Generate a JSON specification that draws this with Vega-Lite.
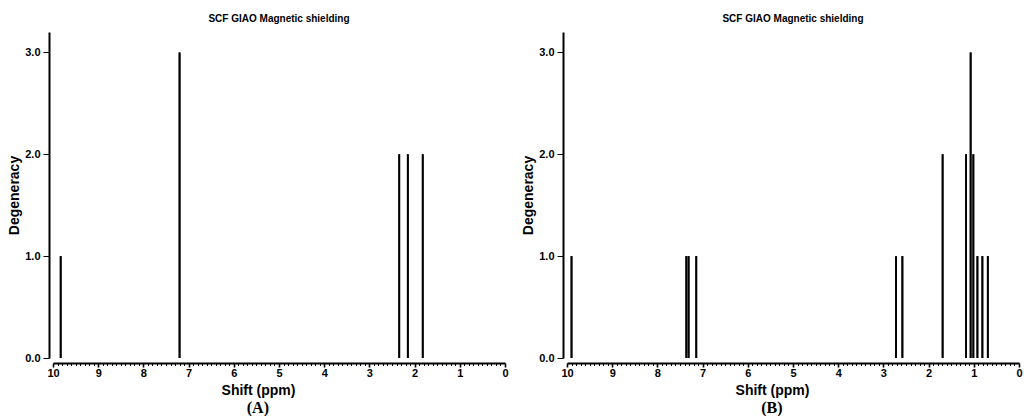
{
  "$schema": "https://vega.github.io/schema/vega-lite/v6.json",
  "background": "white",
  "padding": {"left": 7, "top": 14, "right": 4, "bottom": 0},
  "spacing": 12,
  "datasets": {
    "A": [
      {"shift": 9.83, "deg": 1},
      {"shift": 7.2, "deg": 3},
      {"shift": 2.34, "deg": 2},
      {"shift": 2.15, "deg": 2},
      {"shift": 1.82, "deg": 2}
    ],
    "B": [
      {"shift": 9.9, "deg": 1},
      {"shift": 7.36, "deg": 1},
      {"shift": 7.31, "deg": 1},
      {"shift": 7.14, "deg": 1},
      {"shift": 2.72, "deg": 1},
      {"shift": 2.58, "deg": 1},
      {"shift": 1.69, "deg": 2},
      {"shift": 1.17, "deg": 2},
      {"shift": 1.07, "deg": 3},
      {"shift": 1.01, "deg": 2},
      {"shift": 0.92, "deg": 1},
      {"shift": 0.81, "deg": 1},
      {"shift": 0.69, "deg": 1}
    ]
  },
  "hconcat": [
    {
      "title": {"text": "(A)", "orient": "bottom", "frame": "bounds", "anchor": "middle", "font": "Liberation Serif", "fontSize": 16, "fontWeight": "bold", "color": "black", "offset": 3},
      "vconcat": [
        {
          "width": 452,
          "height": 326,
          "data": {"name": "A"},
          "title": {"text": "SCF GIAO Magnetic shielding", "font": "Liberation Sans", "fontSize": 10, "fontWeight": "bold", "color": "black", "offset": 8},
          "layer": [
            {
              "mark": {"type": "rule", "strokeWidth": 1.8, "color": "black"},
              "encoding": {
                "x": {"field": "shift", "type": "quantitative", "scale": {"domain": [0, 10], "reverse": true, "nice": false, "zero": false},
                  "axis": {"orient": "bottom", "title": "Shift (ppm)", "titleX": 205, "offset": 5, "values": [0,1,2,3,4,5,6,7,8,9,10], "format": "d", "tickSize": 4, "tickWidth": 1.6, "labelPadding": 0, "titlePadding": 5}},
                "y": {"field": "deg", "type": "quantitative", "scale": {"domain": [0, 3.2], "nice": false},
                  "axis": {"title": "Degeneracy", "values": [0, 1, 2, 3], "format": ".1f", "offset": 4, "tickSize": 6, "labelPadding": 3, "titlePadding": 3}},
                "y2": {"datum": 0}
              }
            },
            {
              "mark": {"type": "rule", "strokeWidth": 1.8, "color": "black"},
              "encoding": {
                "x": {"field": "shift", "type": "quantitative",
                  "axis": {"orient": "bottom", "title": null, "offset": 5, "domain": false, "labels": false, "tickSize": 2.5, "tickWidth": 1,
                    "values": [0.1,0.2,0.3,0.4,0.5,0.6,0.7,0.8,0.9,1.1,1.2,1.3,1.4,1.5,1.6,1.7,1.8,1.9,2.1,2.2,2.3,2.4,2.5,2.6,2.7,2.8,2.9,3.1,3.2,3.3,3.4,3.5,3.6,3.7,3.8,3.9,4.1,4.2,4.3,4.4,4.5,4.6,4.7,4.8,4.9,5.1,5.2,5.3,5.4,5.5,5.6,5.7,5.8,5.9,6.1,6.2,6.3,6.4,6.5,6.6,6.7,6.8,6.9,7.1,7.2,7.3,7.4,7.5,7.6,7.7,7.8,7.9,8.1,8.2,8.3,8.4,8.5,8.6,8.7,8.8,8.9,9.1,9.2,9.3,9.4,9.5,9.6,9.7,9.8,9.9]}},
                "y": {"field": "deg", "type": "quantitative"},
                "y2": {"datum": 0}
              }
            }
          ],
          "resolve": {"axis": {"x": "independent"}}
        }
      ]
    },
    {
      "title": {"text": "(B)", "orient": "bottom", "frame": "bounds", "anchor": "middle", "font": "Liberation Serif", "fontSize": 16, "fontWeight": "bold", "color": "black", "offset": 3},
      "vconcat": [
        {
          "width": 452,
          "height": 326,
          "data": {"name": "B"},
          "title": {"text": "SCF GIAO Magnetic shielding", "font": "Liberation Sans", "fontSize": 10, "fontWeight": "bold", "color": "black", "offset": 8},
          "layer": [
            {
              "mark": {"type": "rule", "strokeWidth": 1.8, "color": "black"},
              "encoding": {
                "x": {"field": "shift", "type": "quantitative", "scale": {"domain": [0, 10], "reverse": true, "nice": false, "zero": false},
                  "axis": {"orient": "bottom", "title": "Shift (ppm)", "titleX": 205, "offset": 5, "values": [0,1,2,3,4,5,6,7,8,9,10], "format": "d", "tickSize": 4, "tickWidth": 1.6, "labelPadding": 0, "titlePadding": 5}},
                "y": {"field": "deg", "type": "quantitative", "scale": {"domain": [0, 3.2], "nice": false},
                  "axis": {"title": "Degeneracy", "values": [0, 1, 2, 3], "format": ".1f", "offset": 4, "tickSize": 6, "labelPadding": 3, "titlePadding": 3}},
                "y2": {"datum": 0}
              }
            },
            {
              "mark": {"type": "rule", "strokeWidth": 1.8, "color": "black"},
              "encoding": {
                "x": {"field": "shift", "type": "quantitative",
                  "axis": {"orient": "bottom", "title": null, "offset": 5, "domain": false, "labels": false, "tickSize": 2.5, "tickWidth": 1,
                    "values": [0.1,0.2,0.3,0.4,0.5,0.6,0.7,0.8,0.9,1.1,1.2,1.3,1.4,1.5,1.6,1.7,1.8,1.9,2.1,2.2,2.3,2.4,2.5,2.6,2.7,2.8,2.9,3.1,3.2,3.3,3.4,3.5,3.6,3.7,3.8,3.9,4.1,4.2,4.3,4.4,4.5,4.6,4.7,4.8,4.9,5.1,5.2,5.3,5.4,5.5,5.6,5.7,5.8,5.9,6.1,6.2,6.3,6.4,6.5,6.6,6.7,6.8,6.9,7.1,7.2,7.3,7.4,7.5,7.6,7.7,7.8,7.9,8.1,8.2,8.3,8.4,8.5,8.6,8.7,8.8,8.9,9.1,9.2,9.3,9.4,9.5,9.6,9.7,9.8,9.9]}},
                "y": {"field": "deg", "type": "quantitative"},
                "y2": {"datum": 0}
              }
            }
          ],
          "resolve": {"axis": {"x": "independent"}}
        }
      ]
    }
  ],
  "config": {
    "view": {"stroke": null},
    "axis": {
      "grid": false,
      "domainColor": "black",
      "domainWidth": 2,
      "tickColor": "black",
      "labelFont": "Liberation Sans",
      "labelFontSize": 11,
      "labelFontWeight": "bold",
      "labelColor": "black",
      "labelOverlap": false,
      "labelBound": false,
      "labelFlush": false,
      "titleFont": "Liberation Sans",
      "titleFontSize": 14,
      "titleFontWeight": "bold",
      "titleColor": "black",
      "titlePadding": 4
    }
  }
}
